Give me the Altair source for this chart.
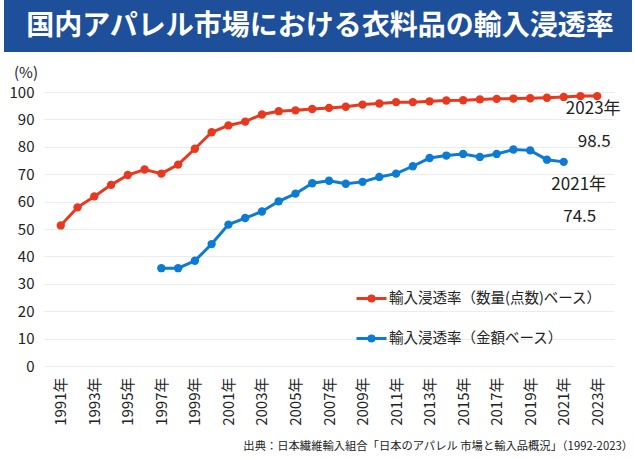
import altair as alt
import pandas as pd

FONT = "Noto Sans CJK JP"

# ---- data ----
qty_name = "輸入浸透率（数量(点数)ベース）"
amt_name = "輸入浸透率（金額ベース）"

qty_years = list(range(1991, 2024))
qty_values = [51.3, 57.9, 61.9, 66.1, 69.7, 71.7, 70.2, 73.5, 79.3, 85.3,
              87.8, 89.2, 91.8, 93.0, 93.3, 93.8, 94.2, 94.6, 95.4, 95.8,
              96.3, 96.3, 96.6, 96.9, 97.0, 97.3, 97.5, 97.6, 97.7, 97.9,
              98.2, 98.5, 98.5]

amt_years = list(range(1997, 2022))
amt_values = [35.7, 35.7, 38.4, 44.5, 51.6, 54.0, 56.4, 60.1, 62.9, 66.7,
              67.6, 66.5, 67.2, 69.0, 70.2, 72.9, 75.9, 76.8, 77.4, 76.3,
              77.4, 79.0, 78.7, 75.3, 74.5]

tick_years = list(range(1991, 2024, 2))
y_ticks = [0, 10, 20, 30, 40, 50, 60, 70, 80, 90, 100]

ann_years = [2023, 2021]
ann_values = [98.5, 74.5]
ann_year_labels = ["2023年", "2021年"]
ann_value_labels = ["98.5", "74.5"]

title_text = "国内アパレル市場における衣料品の輸入浸透率"
source_text = "出典：日本繊維輸入組合「日本のアパレル 市場と輸入品概況」（1992-2023）"

RED = "#e8381e"
BLUE = "#0b7bd5"

df = pd.DataFrame(
    {"year": qty_years + amt_years,
     "value": qty_values + amt_values,
     "series": [qty_name] * len(qty_years) + [amt_name] * len(amt_years)}
)

x_scale = alt.Scale(domain=[1990, 2024], nice=False, zero=False)
y_scale = alt.Scale(domain=[0, 100], nice=False)

x_axis = alt.Axis(values=tick_years, labelExpr="datum.value + '年'",
                  labelAngle=-90, labelFontSize=15, labelColor="#222",
                  labelFont=FONT, ticks=False, domain=False, grid=False,
                  labelOverlap=False, labelFlush=False,
                  labelPadding=11, title=None)
y_axis = alt.Axis(values=y_ticks, labelFontSize=15, labelColor="#222",
                  labelFont=FONT, ticks=False, domain=False,
                  labelOverlap=False, labelFlush=False,
                  gridColor="#ececec", gridWidth=1,
                  labelPadding=10, title=None)

legend_symbol = ("M-1,0H1"
                 "M-0.17,0A0.17,0.17,0,1,0,0.17,0A0.17,0.17,0,1,0,-0.17,0"
                 "M-0.07,0A0.07,0.07,0,1,0,0.07,0A0.07,0.07,0,1,0,-0.07,0")

lines = alt.Chart(df).mark_line(
    strokeWidth=3,
    point=alt.OverlayMarkDef(filled=True, size=70, opacity=1),
).encode(
    x=alt.X("year:Q", scale=x_scale, axis=x_axis),
    y=alt.Y("value:Q", scale=y_scale, axis=y_axis),
    color=alt.Color("series:N",
                    scale=alt.Scale(domain=[qty_name, amt_name], range=[RED, BLUE]),
                    legend=alt.Legend(orient="none", legendX=311, legendY=190,
                                      title=None, symbolType=legend_symbol,
                                      symbolSize=900, symbolStrokeWidth=3,
                                      labelFontSize=14.5, labelColor="#222",
                                      labelFont=FONT, rowPadding=14,
                                      labelLimit=0, labelOffset=1)),
    order="year:Q",
)

ann_df = pd.DataFrame({"year": ann_years, "value": ann_values,
                       "ylab": ann_year_labels, "vlab": ann_value_labels})


def ann(row, field, dx, dy):
    return alt.Chart(ann_df.iloc[[row]]).mark_text(
        fontSize=17, font=FONT, color="#222", dx=dx, dy=dy).encode(
        x=alt.X("year:Q", scale=x_scale, axis=x_axis),
        y=alt.Y("value:Q", scale=y_scale, axis=y_axis),
        text=f"{field}:N")


ann_year_red = ann(0, "ylab", -4, 13)
ann_val_red = ann(0, "vlab", -3, 46)
ann_year_blue = ann(1, "ylab", 15, 23)
ann_val_blue = ann(1, "vlab", 16, 55)

one = alt.Data(values=[{}])

banner = alt.Chart(one).mark_rect(color="#1d4f9b").encode(
    x=alt.value(-40), x2=alt.value(588), y=alt.value(-92), y2=alt.value(-40))
title = alt.Chart(one).mark_text(
    text=title_text, fontSize=28, fontWeight="bold", color="white", font=FONT,
    align="center", baseline="middle").encode(x=alt.value(276), y=alt.value(-65))
pct = alt.Chart(one).mark_text(
    text="(%)", fontSize=15, color="#222", font=FONT,
    align="center", baseline="middle").encode(x=alt.value(-18), y=alt.value(-19))
source = alt.Chart(one).mark_text(
    text=source_text, fontSize=11.3, color="#222", font=FONT,
    align="right", baseline="middle").encode(x=alt.value(589), y=alt.value(355))

chart = alt.layer(
    lines, ann_year_red, ann_val_red, ann_year_blue, ann_val_blue,
    banner, title, pct, source,
).properties(
    width=570, height=274,
    padding={"left": 44, "top": 92, "right": 21, "bottom": 93},
    autosize=alt.AutoSizeParams(type="none"),
    background="white",
).configure_view(stroke=None)

chart.save("out.html", embed_options={"renderer": "svg", "actions": False})
